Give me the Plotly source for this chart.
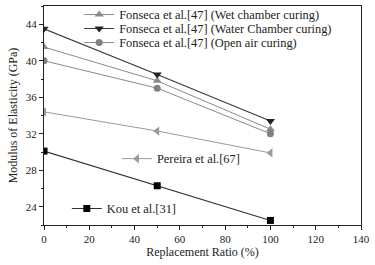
import plotly.graph_objects as go

x = [0, 50, 100]
fonseca_wet = [41.5, 37.8, 32.5]
fonseca_water = [43.5, 38.5, 33.4]
fonseca_open = [40.0, 37.0, 32.0]
pereira = [34.4, 32.3, 29.9]
kou = [30.1, 26.3, 22.5]

names = {
    "wet": "Fonseca et al.[47] (Wet chamber curing)",
    "water": "Fonseca et al.[47] (Water Chamber curing)",
    "open": "Fonseca et al.[47] (Open air curing)",
    "pereira": "Pereira et al.[67]",
    "kou": "Kou et al.[31]",
}

FONT = "Liberation Serif, Times New Roman, serif"

fig = go.Figure()
fig.add_trace(go.Scatter(x=x, y=fonseca_wet, name=names["wet"], mode="lines+markers",
                         line=dict(color="#8a8a8a", width=1),
                         marker=dict(symbol="triangle-up", size=8, color="#8a8a8a"),
                         legend="legend2"))
fig.add_trace(go.Scatter(x=x, y=fonseca_water, name=names["water"], mode="lines+markers",
                         line=dict(color="#3a3a3a", width=1.1),
                         marker=dict(symbol="triangle-down", size=8, color="#222222"),
                         legend="legend3"))
fig.add_trace(go.Scatter(x=x, y=fonseca_open, name=names["open"], mode="lines+markers",
                         line=dict(color="#8a8a8a", width=1),
                         marker=dict(symbol="circle", size=7, color="#808080"),
                         legend="legend4"))
fig.add_trace(go.Scatter(x=x, y=pereira, name=names["pereira"], mode="lines+markers",
                         line=dict(color="#9a9a9a", width=1),
                         marker=dict(symbol="triangle-left", size=8, color="#9a9a9a"),
                         legend="legend5"))
fig.add_trace(go.Scatter(x=x, y=kou, name=names["kou"], mode="lines+markers",
                         line=dict(color="#333333", width=1.1),
                         marker=dict(symbol="square", size=7, color="#000000"),
                         legend="legend6"))

axis_common = dict(
    showline=True, linecolor="#222", linewidth=1, mirror=True,
    ticks="outside", ticklen=4, tickcolor="#222", tickwidth=1,
    showgrid=False, zeroline=False, automargin=False,
    tickfont=dict(family=FONT, size=11, color="#222"),
)

LEGFONT = dict(family=FONT, size=12.4, color="#222")


def leg(xp, yp):
    return dict(x=xp, y=yp, xanchor="left", yanchor="middle", bgcolor="rgba(0,0,0,0)",
                font=LEGFONT, itemwidth=30, borderwidth=0)


fig.update_layout(
    width=375, height=265,
    margin=dict(l=44, r=14, t=6, b=40, autoexpand=False),
    paper_bgcolor="white", plot_bgcolor="white",
    font=dict(family=FONT, size=11, color="#222"),
    showlegend=True,
    xaxis=dict(range=[0, 140], dtick=20, tick0=0,
               minor=dict(ticks="outside", ticklen=2, dtick=10, tickcolor="#222"),
               title=dict(text="Replacement Ratio (%)", font=dict(family=FONT, size=12), standoff=3),
               **axis_common),
    yaxis=dict(range=[22, 46], dtick=4, tick0=0,
               minor=dict(ticks="outside", ticklen=2, dtick=2, tickcolor="#222"),
               title=dict(text="Modulus of Elasticity (GPa)", font=dict(family=FONT, size=12), standoff=5),
               **axis_common),
    legend2=leg(0.111, 0.959),
    legend3=leg(0.111, 0.895),
    legend4=leg(0.111, 0.831),
    legend5=leg(0.230, 0.301),
    legend6=leg(0.072, 0.073),
)

fig.write_html("out.html", config={"displayModeBar": False},
               post_script="document.body.style.margin='0';")
